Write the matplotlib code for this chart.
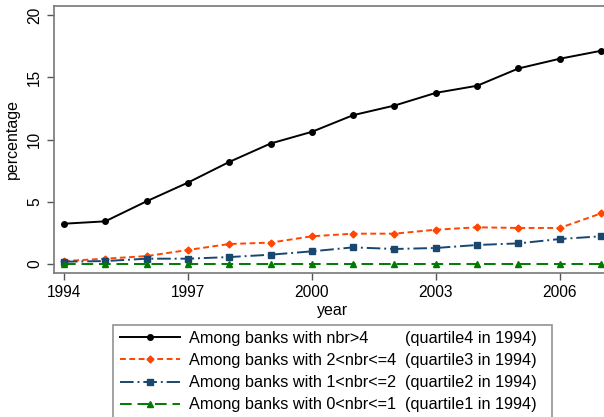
import matplotlib
matplotlib.use("Agg")
import matplotlib.pyplot as plt
from matplotlib.lines import Line2D

plt.rcParams['font.family'] = ['Liberation Sans', 'DejaVu Sans']

years = list(range(1994, 2008))
q4 = [3.24, 3.43, 5.04, 6.54, 8.20, 9.68, 10.62, 11.96, 12.73, 13.75, 14.32, 15.71, 16.49, 17.13]
q3 = [0.24, 0.43, 0.64, 1.13, 1.61, 1.72, 2.23, 2.44, 2.44, 2.76, 2.95, 2.90, 2.90, 4.07]
q2 = [0.19, 0.24, 0.43, 0.43, 0.56, 0.75, 1.02, 1.34, 1.21, 1.29, 1.53, 1.66, 2.01, 2.23]
q1 = [0.01, 0.01, 0.01, 0.01, 0.01, 0.01, 0.01, 0.01, 0.01, 0.01, 0.01, 0.01, 0.01, 0.01]

labels = ["Among banks with nbr>4", "Among banks with 2<nbr<=4",
          "Among banks with 1<nbr<=2", "Among banks with 0<nbr<=1"]
notes = ["(quartile4 in 1994)  ", "(quartile3 in 1994)  ",
         "(quartile2 in 1994)  ", "(quartile1 in 1994)  "]
xticks = [1994, 1997, 2000, 2003, 2006]
yticks = [0, 5, 10, 15, 20]

fig = plt.figure(figsize=(6.04, 4.17), dpi=100)
ax = fig.add_axes([0.0894, 0.3453, 0.9222, 0.641])

lw = 1.4
ax.plot(years, q4, color='black', lw=lw, ls='-', marker='o', ms=4, label=labels[0])
ax.plot(years, q3, color='#ff4500', lw=lw, ls=(0, (3, 1.8)), marker='D', ms=3.5, label=labels[1])
ax.plot(years, q2, color='#1a476f', lw=lw, ls=(0, (7, 2, 1, 2)), marker='s', ms=3.8, label=labels[2])
ax.plot(years, q1, color='#007a00', lw=lw, ls=(0, (6, 3)), marker='^', ms=4, label=labels[3])

ax.set_xlim(1993.76, 2007.24)
ax.set_ylim(-0.72, 20.75)
ax.set_xticks(xticks)
ax.set_yticks(yticks)
ax.tick_params(labelsize=11.2, length=5, width=1, color='#555555', pad=3.5)
for lbl in ax.get_yticklabels():
    lbl.set_rotation(90)
    lbl.set_va('center')
for s in ax.spines.values():
    s.set_color('#777777')
    s.set_linewidth(1.2)
ax.set_xlabel("year", fontsize=11.5, labelpad=2)
ax.set_ylabel("percentage", fontsize=11.5, labelpad=5)

handles = ax.get_lines()
blank = [Line2D([], [], ls='none') for _ in notes]
leg = fig.legend(list(handles) + blank, labels + notes, ncol=2,
                 loc='upper left', bbox_to_anchor=(113 / 604, 1 - 324.5 / 417),
                 borderaxespad=0, fontsize=11.7, handlelength=3.7, handletextpad=0.6,
                 columnspacing=-3.8, labelspacing=0.44, borderpad=0.4,
                 fancybox=False, frameon=True)
leg.get_frame().set_edgecolor('#777777')
leg.get_frame().set_linewidth(1.2)

plt.savefig("out.png", dpi=100)
plt.close()
